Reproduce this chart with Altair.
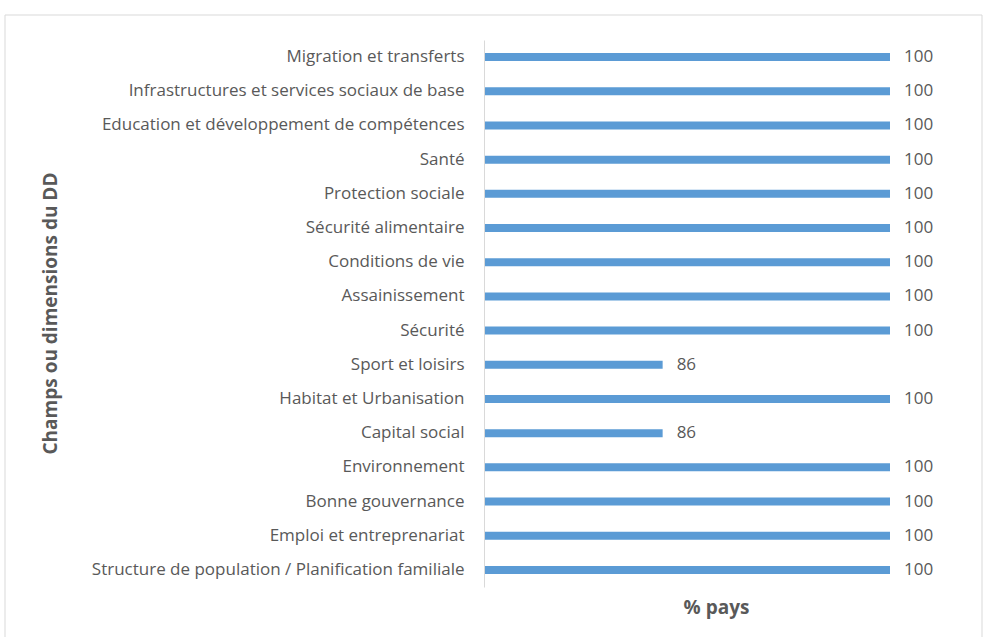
import altair as alt
import pandas as pd

categories = [
    "Migration et transferts",
    "Infrastructures et services sociaux de base",
    "Education et développement de compétences",
    "Santé ",
    "Protection sociale",
    "Sécurité alimentaire",
    "Conditions de vie",
    "Assainissement",
    "Sécurité ",
    "Sport et loisirs",
    "Habitat et Urbanisation",
    "Capital social",
    "Environnement ",
    "Bonne gouvernance",
    "Emploi et entreprenariat",
    "Structure de population / Planification familiale",
]
values = [100, 100, 100, 100, 100, 100, 100, 100, 100, 86, 100, 86, 100, 100, 100, 100]
x_domain = [75, 100]

df = pd.DataFrame({"cat": categories, "val": values})

FONT = "Open Sans"
GREY = "#595959"

y_enc = alt.Y(
    "cat:N",
    sort=categories,
    scale=alt.Scale(paddingInner=0.0, paddingOuter=0.0),
    axis=alt.Axis(
        title="Champs ou dimensions du DD",
        titleFont=FONT, titleFontSize=19, titleFontWeight="bold", titleColor=GREY,
        titleAngle=-90, titleX=-434, titleY=273, titleAlign="center", titleBaseline="middle",
        labelFont=FONT, labelFontSize=17, labelColor=GREY, labelPadding=20,
        labelLimit=500, ticks=False, domainColor="#d9d9d9", domainWidth=1, zindex=1,
    ),
)

x_enc = alt.X(
    "val:Q",
    scale=alt.Scale(domain=x_domain, zero=False, nice=False),
    axis=alt.Axis(
        title="% pays", titleFont=FONT, titleFontSize=19, titleFontWeight="bold",
        titleColor=GREY, titleX=232, titleY=20, titleBaseline="middle", titleAlign="center",
        labels=False, ticks=False, domain=False, grid=False, zindex=1,
    ),
)

frame = alt.Chart(df.head(1)).mark_rect(
    fillOpacity=0, stroke="#d9d9d9", strokeWidth=1
).encode(
    x=alt.value(-479), x2=alt.value(498), y=alt.value(-25), y2=alt.value(620)
)

bars = alt.Chart(df).mark_bar(color="#5B9BD5", size=8).encode(
    y=y_enc, x=x_enc, x2=alt.datum(x_domain[0])
)

labels = alt.Chart(df).mark_text(
    align="left", baseline="middle", dx=14, font=FONT, fontSize=17, color=GREY
).encode(y=alt.Y("cat:N", sort=categories), x=alt.X("val:Q"), text="val:Q")

chart = alt.layer(frame, bars, labels).properties(
    width=406, height=547,
    padding={"left": 484, "top": 40, "right": 94, "bottom": 50},
    autosize=alt.AutoSizeParams(type="none"),
    background="white",
).configure_view(strokeWidth=0)

chart.save("out.html", embed_options={"renderer": "svg", "actions": False})
